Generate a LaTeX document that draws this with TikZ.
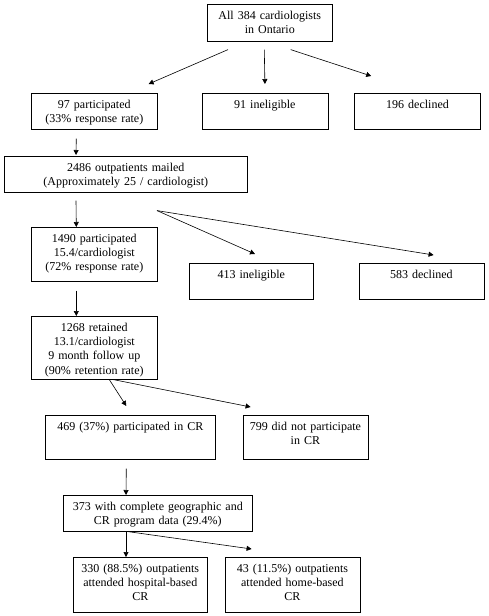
\documentclass[tikz,border=0pt]{standalone}
\usepackage{fontspec}
\setmainfont{Liberation Serif}
\usetikzlibrary{positioning,arrows.meta}

\begin{document}
\begin{tikzpicture}[x=1pt,y=-1pt,
  flowbox/.style={draw, line width=0.6pt, anchor=north west, align=center,
    inner xsep=0pt, inner ysep=3pt, text height=12pt,
    font=\fontsize{12}{14.3}\selectfont},
  arr/.style={line width=0.6pt, -{Triangle[length=5pt,width=5pt]}}]
\useasboundingbox (0,0) rectangle (488,616);
\node (all) [flowbox, text width=125pt, text depth=19pt] at (207,4) {All 384 cardiologists\\in Ontario};
\node (part) [flowbox, text width=126pt, text depth=18pt] at (31,93) {97 participated\\(33\% response rate)};
\node (inel) [flowbox, text width=126pt, text depth=18pt, right=44pt of part] {91 ineligible};
\node (decl) [flowbox, text width=126pt, text depth=18pt, right=26pt of inel] {196 declined};
\node (mailed) [flowbox, text width=243pt, text depth=18pt] at (4,156) {2486 outpatients mailed\\(Approximately 25 / cardiologist)};
\node (pats) [flowbox, text width=126pt, text depth=36pt] at (31,227) {1490 participated\\15.4/cardiologist\\(72\% response rate)};
\node (pinel) [flowbox, text width=124pt, text depth=18pt] at (189,263) {413 ineligible};
\node (pdecl) [flowbox, text width=125pt, text depth=18pt, right=45pt of pinel] {583 declined};
\node (kept) [flowbox, text width=126pt, text depth=45pt] at (31,316) {1268 retained\\13.1/cardiologist\\9 month follow up\\(90\% retention rate)};
\node (incr) [flowbox, text width=170pt, text depth=26pt] at (45,415) {469 (37\%) participated in CR};
\node (notcr) [flowbox, text width=125pt, text depth=26pt, right=27pt of incr] {799 did not participate\\in CR};
\node (geo) [flowbox, text width=189pt, text depth=18pt] at (63,495) {373 with complete geographic and\\CR program data (29.4\%)};
\node (hosp) [flowbox, text width=134pt, text depth=37pt] at (73,557) {330 (88.5\%) outpatients\\attended hospital-based\\CR};
\node (home) [flowbox, text width=135pt, text depth=37pt, right=17pt of hosp] {43 (11.5\%) outpatients\\attended home-based\\CR};

\draw [arr] ([xshift=21pt,yshift=-8pt]all.south west) -- ([xshift=-9pt,yshift=9pt]part.north east);
\draw [arr] ([xshift=-5.5pt,yshift=-8pt]all.south) -- ([yshift=9pt]inel.north);
\draw [arr] ([xshift=-42pt,yshift=-8pt]all.south east) -- ([xshift=17pt,yshift=17pt]decl.north west);
\draw [arr] ([xshift=-18pt,yshift=-9pt]part.south) -- ([xshift=72pt,yshift=1pt]mailed.north west);
\draw [arr] ([xshift=72pt,yshift=-8pt]mailed.south west) -- ([xshift=-18pt]pats.north);
\draw [arr] ([xshift=153pt,yshift=-18pt]mailed.south west) -- ([xshift=66pt,yshift=9pt]pinel.north west);
\draw [arr] ([xshift=153pt,yshift=-18pt]mailed.south west) -- ([xshift=75pt,yshift=8pt]pdecl.north west);
\draw [arr] ([xshift=-18pt,yshift=-9pt]pats.south) -- ([xshift=-18pt]kept.north);
\draw [arr] ([xshift=15pt]kept.south) -- ([xshift=-4pt,yshift=9pt]incr.north);
\draw [arr] ([xshift=19pt]kept.south) -- ([xshift=8pt,yshift=8pt]notcr.north west);
\draw [arr] ([xshift=-4pt,yshift=-9pt]incr.south) -- ([xshift=63pt]geo.north west);
\draw [arr] ([xshift=63pt]geo.south west) -- ([xshift=53pt]hosp.north west);
\draw [arr] ([xshift=65pt]geo.south west) -- ([xshift=27pt,yshift=8pt]home.north west);
\end{tikzpicture}
\end{document}
